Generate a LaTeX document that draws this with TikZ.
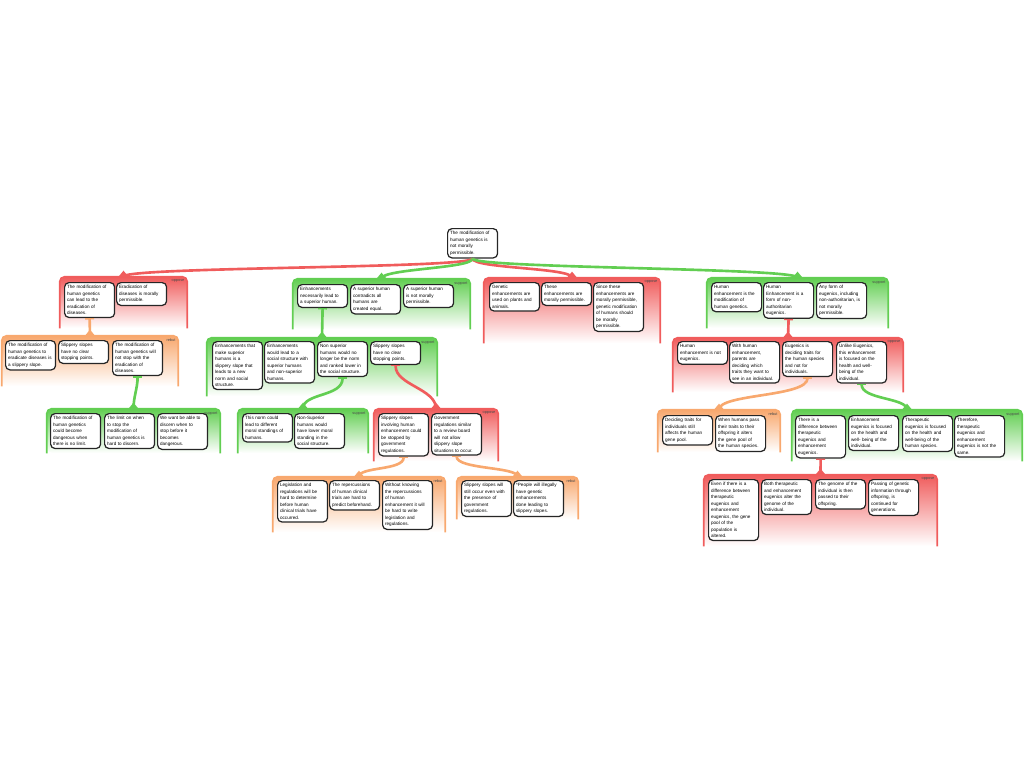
\documentclass[tikz,border=0pt]{standalone}
\usepackage{fontspec}
\setmainfont{Liberation Sans}
\usetikzlibrary{arrows.meta,fit}

\definecolor{oppred}{RGB}{240,92,92}
\definecolor{supgreen}{RGB}{98,206,82}
\definecolor{rebutorange}{RGB}{248,168,110}

\tikzset{
  claim/.style={draw=black!85, line width=0.7pt, fill=white, rounded corners=2.5pt,
    anchor=north west, text width=0.9cm, inner xsep=0.05cm, inner ysep=0.055cm,
    align=left, font=\fontsize{2.62}{3.7}\selectfont},
  group/.style={inner sep=0pt, top color=#1, bottom color=white, rounded corners=3pt},
  rim/.style={#1, line width=1pt, rounded corners=3pt},
  tag/.style={anchor=north east, inner sep=1.5pt, font=\fontsize{2.2}{2.6}\selectfont, text=black!70},
  link/.style={#1, line width=1.5pt},
  tick/.style={{Bar[width=5pt,line width=0.8pt]}-},
}

\begin{document}
\begin{tikzpicture}[x=0.02cm, y=-0.02cm]
\useasboundingbox (0,0) rectangle (1024,768);

% groups
\node[group=oppred, fit={(60,277) (187,328)}] (gA) {};
\node[group=rebutorange, fit={(2,336) (178,386)}] (gB) {};
\node[group=supgreen, fit={(47,409) (220,453)}] (gC) {};
\node[group=supgreen, fit={(293,279) (470,329)}] (gD) {};
\node[group=supgreen, fit={(207,338) (437,396)}] (gE) {};
\node[group=supgreen, fit={(238,409) (368,453)}] (gF) {};
\node[group=oppred, fit={(374,409) (498,461)}] (gG) {};
\node[group=rebutorange, fit={(273,477) (445,532)}] (gH) {};
\node[group=rebutorange, fit={(457,477) (578,519)}] (gI) {};
\node[group=oppred, fit={(484,278) (660,343)}] (gJ) {};
\node[group=supgreen, fit={(707,278) (888,328)}] (gK) {};
\node[group=oppred, fit={(673,338) (903,392)}] (gL) {};
\node[group=rebutorange, fit={(658,410) (780,452)}] (gM) {};
\node[group=supgreen, fit={(792,410) (1022,461)}] (gN) {};
\node[group=oppred, fit={(704,475) (937,546)}] (gO) {};

% rims and notches
\draw[rim=oppred] (gA.south west) -- (gA.north west) -- (gA.north east) -- (gA.south east);
\fill[oppred] (gA.north) ++(-5,0) -- ++(5,-6) -- ++(5,6) -- cycle;
\draw[rim=rebutorange] (gB.south west) -- (gB.north west) -- (gB.north east) -- (gB.south east);
\fill[rebutorange] (gB.north) ++(-5,0) -- ++(5,-6) -- ++(5,6) -- cycle;
\draw[rim=supgreen] (gC.south west) -- (gC.north west) -- (gC.north east) -- (gC.south east);
\fill[supgreen] (gC.north) ++(-5,0) -- ++(5,-6) -- ++(5,6) -- cycle;
\draw[rim=supgreen] (gD.south west) -- (gD.north west) -- (gD.north east) -- (gD.south east);
\fill[supgreen] (gD.north) ++(-5,0) -- ++(5,-6) -- ++(5,6) -- cycle;
\draw[rim=supgreen] (gE.south west) -- (gE.north west) -- (gE.north east) -- (gE.south east);
\fill[supgreen] (gE.north) ++(-5,0) -- ++(5,-6) -- ++(5,6) -- cycle;
\draw[rim=supgreen] (gF.south west) -- (gF.north west) -- (gF.north east) -- (gF.south east);
\fill[supgreen] (gF.north) ++(-5,0) -- ++(5,-6) -- ++(5,6) -- cycle;
\draw[rim=oppred] (gG.south west) -- (gG.north west) -- (gG.north east) -- (gG.south east);
\fill[oppred] (gG.north) ++(-5,0) -- ++(5,-6) -- ++(5,6) -- cycle;
\draw[rim=rebutorange] (gH.south west) -- (gH.north west) -- (gH.north east) -- (gH.south east);
\fill[rebutorange] (gH.north) ++(-5,0) -- ++(5,-6) -- ++(5,6) -- cycle;
\draw[rim=rebutorange] (gI.south west) -- (gI.north west) -- (gI.north east) -- (gI.south east);
\fill[rebutorange] (gI.north) ++(-5,0) -- ++(5,-6) -- ++(5,6) -- cycle;
\draw[rim=oppred] (gJ.south west) -- (gJ.north west) -- (gJ.north east) -- (gJ.south east);
\fill[oppred] (gJ.north) ++(-5,0) -- ++(5,-6) -- ++(5,6) -- cycle;
\draw[rim=supgreen] (gK.south west) -- (gK.north west) -- (gK.north east) -- (gK.south east);
\fill[supgreen] (gK.north) ++(-5,0) -- ++(5,-6) -- ++(5,6) -- cycle;
\draw[rim=oppred] (gL.south west) -- (gL.north west) -- (gL.north east) -- (gL.south east);
\fill[oppred] (gL.north) ++(-5,0) -- ++(5,-6) -- ++(5,6) -- cycle;
\draw[rim=rebutorange] (gM.south west) -- (gM.north west) -- (gM.north east) -- (gM.south east);
\fill[rebutorange] (gM.north) ++(-5,0) -- ++(5,-6) -- ++(5,6) -- cycle;
\draw[rim=supgreen] (gN.south west) -- (gN.north west) -- (gN.north east) -- (gN.south east);
\fill[supgreen] (gN.north) ++(-5,0) -- ++(5,-6) -- ++(5,6) -- cycle;
\draw[rim=oppred] (gO.south west) -- (gO.north west) -- (gO.north east) -- (gO.south east);
\fill[oppred] (gO.north) ++(-5,0) -- ++(5,-6) -- ++(5,6) -- cycle;

% group tags
\node[tag] (tA) at (gA.north east) {oppose};
\node[tag] (tB) at (gB.north east) {rebut};
\node[tag] (tC) at (gC.north east) {support};
\node[tag] (tD) at (gD.north east) {support};
\node[tag] (tE) at (gE.north east) {support};
\node[tag] (tF) at (gF.north east) {support};
\node[tag] (tG) at (gG.north east) {oppose};
\node[tag] (tH) at (gH.north east) {rebut};
\node[tag] (tI) at (gI.north east) {rebut};
\node[tag] (tJ) at (gJ.north east) {oppose};
\node[tag] (tK) at (gK.north east) {support};
\node[tag] (tL) at (gL.north east) {oppose};
\node[tag] (tM) at (gM.north east) {rebut};
\node[tag] (tN) at (gN.north east) {support};
\node[tag] (tO) at (gO.north east) {oppose};

% claims
\node[claim] (root) at (447,228) {The modification of\\human genetics is\\not morally\\permissible.};

\node[claim] (A1) at (64,282) {The modification of\\human genetics\\can lead to the\\eradication of\\diseases.};
\node[claim] (A2) at (116,282) {Eradication of\\diseases is morally\\permissible.};

\node[claim] (B1) at (5,340) {The modification of\\human genetics to\\eradicate diseases is\\a slippery slope.};
\node[claim] (B2) at (58,340) {Slippery slopes\\have no clear\\stopping points.};
\node[claim] (B3) at (112,340) {The modification of\\human genetics will\\not stop with the\\eradication of\\diseases.};

\node[claim] (C1) at (50,413) {The modification of\\human genetics\\could become\\dangerous when\\there is no limit.};
\node[claim] (C2) at (104,413) {The limit on when\\to stop the\\modification of\\human genetics is\\hard to discern.};
\node[claim] (C3) at (157,413) {We want be able to\\discern when to\\stop before it\\becomes\\dangerous.};

\node[claim] (D1) at (297,284) {Enhancements\\necessarily lead to\\a superior human.};
\node[claim] (D2) at (350,284) {A superior human\\contradicts all\\humans are\\created equal.};
\node[claim] (D3) at (403,284) {A superior human\\is not morally\\permissible.};

\node[claim] (E1) at (212,341) {Enhancements that\\make superior\\humans is a\\slippery slope that\\leads to a new\\norm and social\\structure.};
\node[claim] (E2) at (264,341) {Enhancements\\would lead to a\\social structure with\\superior humans\\and non-superior\\humans.};
\node[claim] (E3) at (317,341) {Non superior\\humans would no\\longer be the norm\\and ranked lower in\\the social structure.};
\node[claim] (E4) at (370,341) {Slippery slopes\\have no clear\\stopping points.};

\node[claim] (F1) at (242,413) {This norm could\\lead to different\\moral standings of\\humans.};
\node[claim] (F2) at (294,413) {Non-Superior\\humans would\\have lower moral\\standing in the\\social structure.};

\node[claim] (G1) at (378,413) {Slippery slopes\\involving human\\enhancement could\\be stopped by\\government\\regulations.};
\node[claim] (G2) at (431,413) {Government\\regulations similar\\to a review board\\will not allow\\slippery slope\\situations to occur.};

\node[claim] (H1) at (277,480) {Legislation and\\regulations will be\\hard to determine\\before human\\clinical trials have\\occurred.};
\node[claim] (H2) at (329,480) {The repercussions\\of human clinical\\trials are hard to\\predict beforehand.};
\node[claim] (H3) at (382,480) {Without knowing\\the repercussions\\of human\\enhancement it will\\be hard to write\\legislation and\\regulations.};

\node[claim] (I1) at (461,480) {Slippery slopes will\\still occur even with\\the presence of\\government\\regulations.};
\node[claim] (I2) at (513,480) {*People will illegally\\have genetic\\enhancements\\done leading to\\slippery slopes.};

\node[claim] (J1) at (489,282) {Genetic\\enhancements are\\used on plants and\\animals.};
\node[claim] (J2) at (541,282) {These\\enhancements are\\morally permissible.};
\node[claim] (J3) at (593,282) {Since these\\enhancements are\\morally permissible,\\genetic modification\\of humans should\\be morally\\permissible.};

\node[claim] (K1) at (711,282) {Human\\enhancement is the\\modification of\\human genetics.};
\node[claim] (K2) at (763,282) {Human\\Enhancement is a\\form of non-\\authoritarian\\eugenics.};
\node[claim] (K3) at (816,282) {Any form of\\eugenics, including\\non-authoritarian, is\\not morally\\permissible.};

\node[claim] (L1) at (677,341) {Human\\enhancement is not\\eugenics.};
\node[claim] (L2) at (729,341) {With human\\enhancement,\\parents are\\deciding which\\traits they want to\\see in an individual.};
\node[claim] (L3) at (782,341) {Eugenics is\\deciding traits for\\the human species\\and not for\\individuals.};
\node[claim] (L4) at (836,341) {Unlike Eugenics,\\this enhancement\\is focused on the\\health and well-\\being of the\\individual.};

\node[claim] (M1) at (662,415) {Deciding traits for\\individuals still\\affects the human\\gene pool.};
\node[claim] (M2) at (715,415) {When humans pass\\their traits to their\\offspring it alters\\the gene pool of\\the human species.};

\node[claim] (N1) at (795,415) {There is a\\difference between\\therapeutic\\eugenics and\\enhancement\\eugenics.};
\node[claim] (N2) at (848,415) {Enhancement\\eugenics is focused\\on the health and\\well- being of the\\individual.};
\node[claim] (N3) at (902,415) {Therapeutic\\eugenics is focused\\on the health and\\well-being of the\\human species.};
\node[claim] (N4) at (954,415) {Therefore,\\therapeutic\\eugenics and\\enhancement\\eugenics is not the\\same.};

\node[claim] (O1) at (708,479) {Even if there is a\\difference between\\therapeutic\\eugenics and\\enhancement\\eugenics, the gene\\pool of the\\population is\\altered.};
\node[claim] (O2) at (761,479) {Both therapeutic\\and enhancement\\eugenics alter the\\genome of the\\individual.};
\node[claim] (O3) at (815,479) {The genome of the\\individual is then\\passed to their\\offspring.};
\node[claim] (O4) at (868,479) {Passing of genetic\\information through\\offspring, is\\continued for\\generations.};

% connectors
\draw[link=oppred] (root.south) .. controls +(0,10) and +(0,-10) .. (gA.north);
\draw[link=supgreen] (root.south) .. controls +(0,10) and +(0,-10) .. (gD.north);
\draw[link=oppred] (root.south) .. controls +(0,10) and +(0,-10) .. (gJ.north);
\draw[link=supgreen] (root.south) .. controls +(0,10) and +(0,-10) .. (gK.north);

\draw[link=rebutorange, tick] (A1.south) -- (gB.north);
\draw[link=supgreen, tick] (B3.south) .. controls +(0,12) and +(0,-12) .. (gC.north);
\draw[link=supgreen, tick] (D1.south) -- (gE.north);
\draw[link=supgreen, tick] (E3.south) .. controls +(0,20) and +(0,-16) .. (gF.north);
\draw[link=oppred, tick] (E4.south) .. controls +(0,20) and +(0,-20) .. (gG.north);
\draw[link=rebutorange, tick] (G1.south) .. controls +(0,14) and +(0,-10) .. (gH.north);
\draw[link=rebutorange, tick] (G2.south) .. controls +(0,14) and +(0,-10) .. (gI.north);
\draw[link=oppred, tick] (K2.south) -- (gL.north);
\draw[link=rebutorange, tick] (L3.south) .. controls +(0,20) and +(0,-16) .. (gM.north);
\draw[link=supgreen, tick] (L4.south) .. controls +(0,16) and +(0,-12) .. (gN.north);
\draw[link=oppred, tick] (N1.south) -- (gO.north);
\end{tikzpicture}
\end{document}
